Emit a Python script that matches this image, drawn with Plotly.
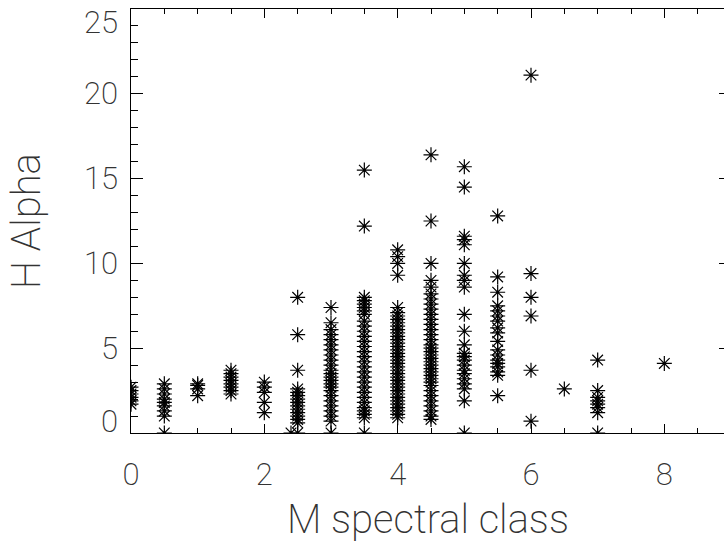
import plotly.graph_objects as go

# Spectral class (M subtype) for each column of points
classes = [0.0, 0.5, 1.0, 1.5, 2.0, 2.4, 2.5, 3.0, 3.5, 4.0, 4.5, 5.0, 5.5, 6.0, 6.5, 7.0, 8.0]

# H Alpha values per spectral class
ha_m00 = [1.7, 1.9, 2.1, 2.3, 2.5, 2.7]
ha_m05 = [0.0, 1.0, 1.3, 1.6, 1.8, 2.0, 2.3, 2.6, 2.9]
ha_m10 = [2.2, 2.6, 2.8, 2.9]
ha_m15 = [2.3, 2.5, 2.7, 2.9, 3.1, 3.3, 3.5, 3.7]
ha_m20 = [1.2, 1.8, 2.4, 2.7, 3.0]
ha_m24 = [0.0]
ha_m25 = [0.0, 0.6, 0.8, 1.0, 1.2, 1.4, 1.6, 1.8, 2.0, 2.2, 2.4, 2.6, 3.7, 5.8, 8.0]
ha_m30 = [0.0, 0.7, 1.0, 1.3, 1.6, 1.9, 2.2, 2.5, 2.7, 2.9, 3.1, 3.3, 3.5, 3.7, 4.0,
          4.3, 4.6, 4.9, 5.2, 5.5, 5.8, 6.1, 6.5, 7.4]
ha_m35 = [0.0, 0.9, 1.1, 1.3, 1.5, 1.8, 2.1, 2.4, 2.7, 3.0, 3.3, 3.6, 3.9, 4.2, 4.5,
          4.8, 5.1, 5.4, 5.7, 6.0, 6.3, 6.6, 7.0, 7.2, 7.4, 7.6, 7.8, 8.0, 12.2, 15.5]
ha_m40 = [0.9, 1.1, 1.3, 1.5, 1.7, 1.9, 2.1, 2.3, 2.5, 2.7, 2.9, 3.1, 3.3, 3.5, 3.7,
          3.9, 4.1, 4.3, 4.5, 4.7, 4.9, 5.1, 5.3, 5.5, 5.7, 5.9, 6.1, 6.3, 6.5, 6.7,
          6.9, 7.1, 7.4, 9.3, 10.0, 10.4, 10.8]
ha_m45 = [0.8, 1.0, 1.3, 1.6, 1.9, 2.2, 2.5, 2.8, 3.0, 3.2, 3.4, 3.6, 3.8, 4.0, 4.2,
          4.4, 4.6, 4.8, 5.0, 5.2, 5.5, 5.8, 6.1, 6.4, 6.7, 7.0, 7.3, 7.6, 7.9, 8.2,
          8.6, 9.0, 10.0, 12.5, 16.4]
ha_m50 = [0.0, 1.9, 2.6, 2.9, 3.2, 3.5, 3.7, 4.0, 4.3, 4.5, 4.7, 5.2, 6.0, 7.0, 8.6,
          9.0, 9.3, 10.0, 11.1, 11.4, 11.6, 14.5, 15.7]
ha_m55 = [2.2, 3.4, 3.6, 3.9, 4.1, 4.3, 4.6, 4.9, 5.4, 5.9, 6.2, 6.6, 6.9, 7.2, 7.5,
          8.3, 9.2, 12.8]
ha_m60 = [0.7, 3.7, 6.9, 8.0, 9.4, 21.1]
ha_m65 = [2.6]
ha_m70 = [0.0, 1.2, 1.5, 1.7, 1.9, 2.1, 2.5, 4.3]
ha_m80 = [4.1]

ha_columns = [ha_m00, ha_m05, ha_m10, ha_m15, ha_m20, ha_m24, ha_m25, ha_m30, ha_m35,
              ha_m40, ha_m45, ha_m50, ha_m55, ha_m60, ha_m65, ha_m70, ha_m80]

x_tick_vals = [0, 2, 4, 6, 8]
y_tick_vals = [0, 5, 10, 15, 20, 25]
x_title = "M spectral class"
y_title = "H Alpha"

xs, ys = [], []
for c, col in zip(classes, ha_columns):
    xs.extend([c] * len(col))
    ys.extend(col)

FONT = "Roboto"
TXT = "#333333"
W = 200

fig = go.Figure()
fig.add_trace(go.Scatter(
    x=xs, y=ys, mode="markers", cliponaxis=True, showlegend=False,
    marker=dict(symbol="asterisk-open", size=12.5, color="black",
                line=dict(color="black", width=1.2)),
))
# right-hand y ticks (IDL style box)
fig.add_trace(go.Scatter(x=[None], y=[None], yaxis="y2", showlegend=False))

fig.update_layout(
    template="none",
    width=724, height=544,
    margin=dict(l=131, r=0, t=9, b=111, pad=0),
    paper_bgcolor="white", plot_bgcolor="white",
    xaxis=dict(
        range=[0, 8.895], tickvals=x_tick_vals, ticktext=[str(v) for v in x_tick_vals],
        ticks="inside", ticklen=9, tickwidth=1, tickcolor="black",
        minor=dict(dtick=0.5, ticks="inside", ticklen=5, tickcolor="black", showgrid=False),
        showline=True, linecolor="black", linewidth=1, mirror="ticks",
        showgrid=False, zeroline=False, automargin=False,
        tickfont=dict(family=FONT, size=31, color=TXT, weight=W),
        ticklabelstandoff=14,
    ),
    yaxis=dict(
        range=[0, 25], tickvals=y_tick_vals, showticklabels=False,
        ticks="inside", ticklen=12, tickwidth=1, tickcolor="black",
        minor=dict(dtick=1, ticks="inside", ticklen=7, tickcolor="black", showgrid=False),
        showline=True, linecolor="black", linewidth=1, mirror=False,
        showgrid=False, zeroline=False, automargin=False,
    ),
    yaxis2=dict(
        range=[0, 25], overlaying="y", side="right", tickvals=y_tick_vals,
        showticklabels=False, ticks="inside", ticklen=5, tickcolor="black",
        showline=False, showgrid=False, zeroline=False, automargin=False,
    ),
)

annotations = []
for v in y_tick_vals:
    shift = 0
    if v == y_tick_vals[0]:
        shift = 12
    elif v == y_tick_vals[-1]:
        shift = -13
    annotations.append(dict(
        x=0, xref="paper", y=v, yref="y", text=str(v), showarrow=False,
        xanchor="right", yanchor="middle", xshift=-11, yshift=shift,
        font=dict(family=FONT, size=31, color=TXT, weight=W),
    ))
annotations.append(dict(
    x=0.5, xref="paper", y=0, yref="paper", text=x_title, showarrow=False,
    xanchor="center", yanchor="middle", yshift=-86,
    font=dict(family=FONT, size=40, color=TXT, weight=W),
))
annotations.append(dict(
    x=0, xref="paper", y=0.5, yref="paper", text=y_title, showarrow=False,
    textangle=-90, xanchor="center", yanchor="middle", xshift=-105,
    font=dict(family=FONT, size=40, color=TXT, weight=W),
))
fig.update_layout(annotations=annotations)

# remove the default 8px body margin so the figure fills the window exactly
fig.write_html("out.html",
               config={"displayModeBar": False},
               post_script="document.body.style.margin='0';document.body.style.overflow='hidden';")
